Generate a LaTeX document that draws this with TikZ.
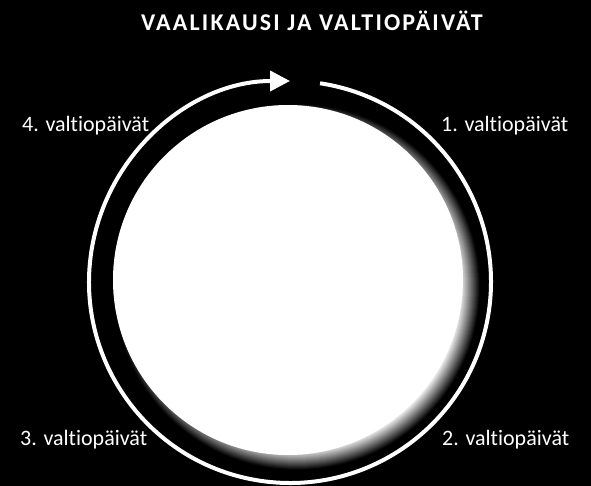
\documentclass[tikz,border=0pt]{standalone}
\usepackage{fontspec}
\setmainfont{Carlito}[Ligatures=NoCommon]
\usetikzlibrary{arrows.meta}
\begin{document}
\begin{tikzpicture}[x=1pt,y=-1pt,
  lbl/.style={text=white,font=\fontsize{22}{26}\selectfont,inner sep=0pt,anchor=base west},
  ttl/.style={text=white,font=\fontsize{24}{28}\selectfont\bfseries\addfontfeatures{LetterSpace=9},inner sep=0pt,anchor=base},
  ring/.style={white,line width=4pt,-{Triangle[length=20pt,width=20pt]}}]
\useasboundingbox (0,0) rectangle (591,486);
\fill[black] (0,0) rectangle (591,486);
\coordinate (c) at (290,282);
\coordinate (g) at (297,287);
% soft edge of the disc
\foreach \k in {0,...,20}{
  \pgfmathsetmacro\g{min(100,2+4.9*\k)}
  \fill[white!\g!black] (g) circle (183-\k);
}
\fill[white] (288,280) circle (175);
% cycle ring with arrow
\draw[ring] ([shift={(-81.4:201)}]c) arc[start angle=-81.4,end angle=270,radius=201];
% title
\node[ttl] (title) at (312,31) {VAALIKAUSI JA VALTIOPÄIVÄT};
% labels
\node[lbl] (l1) at (441,132) {1. valtiopäivät};
\node[lbl] (l2) at (442,445) {2. valtiopäivät};
\node[lbl] (l3) at (20,445) {3. valtiopäivät};
\node[lbl] (l4) at (22,132) {4. valtiopäivät};
\end{tikzpicture}
\end{document}
